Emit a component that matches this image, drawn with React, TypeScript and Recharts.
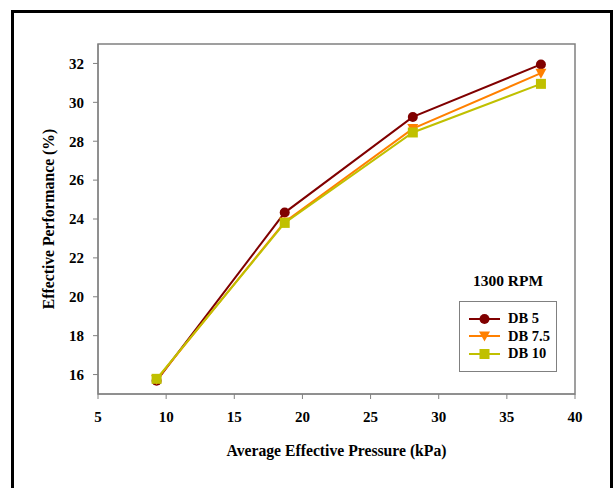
import { LineChart, Line, XAxis, YAxis, ReferenceArea } from "recharts";

// average effective pressure (kPa)
const pressure = [9.3, 18.7, 28.1, 37.5];
// effective performance (%) for each DB setting
const db5 = [15.68, 24.33, 29.25, 31.95];
const db75 = [15.74, 23.85, 28.65, 31.5];
const db10 = [15.78, 23.8, 28.45, 30.95];

const xTicks = [5, 10, 15, 20, 25, 30, 35, 40];
const yTicks = [16, 18, 20, 22, 24, 26, 28, 30, 32];

const COLORS = { db5: "#800000", db75: "#FF8000", db10: "#C0C000" };
const FONT = "'Liberation Serif', 'Times New Roman', serif";
const AXIS = "#808080";

const data = pressure.map((p, i) => ({ p, db5: db5[i], db75: db75[i], db10: db10[i] }));

const series = [
  { key: "db5", name: "DB 5", color: COLORS.db5, shape: "circle" },
  { key: "db75", name: "DB 7.5", color: COLORS.db75, shape: "triangle" },
  { key: "db10", name: "DB 10", color: COLORS.db10, shape: "square" },
];

function Marker({ cx, cy, shape, color }: any) {
  if (cx == null || cy == null) return null;
  if (shape === "circle") return <circle cx={cx} cy={cy} r={5} fill={color} />;
  if (shape === "triangle")
    return <path d={`M${cx - 5.5},${cy - 4.5} L${cx + 5.5},${cy - 4.5} L${cx},${cy + 5.5} Z`} fill={color} />;
  return <rect x={cx - 5} y={cy - 5} width={10} height={10} fill={color} />;
}

function LegendBox() {
  return (
    <div style={{ position: "absolute", left: 459, top: 266, width: 98, fontFamily: FONT, fontWeight: "bold", color: "#000" }}>
      <div style={{ textAlign: "center", fontSize: 15.5, height: 35, lineHeight: "30px" }}>1300 RPM</div>
      <div style={{ border: `1px solid ${AXIS}`, width: 96, height: 61, paddingTop: 8 }}>
        {series.map((s) => (
          <div key={s.key} style={{ display: "flex", alignItems: "center", height: 17.5, fontSize: 14.5 }}>
            <svg width={48} height={14} style={{ flex: "none" }}>
              <line x1={9} y1={7} x2={40} y2={7} stroke={s.color} strokeWidth={2} />
              <Marker cx={24.5} cy={7} shape={s.shape} color={s.color} />
            </svg>
            <span>{s.name}</span>
          </div>
        ))}
      </div>
    </div>
  );
}

export default function App() {
  const tick = { fill: "#000", fontSize: 15, fontWeight: "bold", fontFamily: FONT };
  return (
    <div style={{ position: "absolute", left: 0, top: 0, width: 614, height: 488, background: "#fff", overflow: "hidden" }}>
      <div
        style={{
          position: "absolute",
          left: 11,
          top: 10,
          width: 602,
          height: 520,
          border: "3px solid #000",
          boxSizing: "border-box",
        }}
      />
      <LineChart width={614} height={488} data={data} margin={{ top: 44, right: 39, left: 38, bottom: 54 }}>
        <ReferenceArea x1={5} x2={40} y1={15} y2={33} fill="none" stroke={AXIS} strokeWidth={1.5} ifOverflow="visible" />
        <XAxis
          dataKey="p"
          type="number"
          domain={[5, 40]}
          ticks={xTicks}
          tick={tick}
          tickSize={5}
          tickMargin={12}
          stroke={AXIS}
          height={40}
          label={{
            value: "Average Effective Pressure (kPa)",
            position: "insideBottom",
            offset: -22,
            style: { fill: "#000", fontSize: 15.7, fontWeight: "bold", fontFamily: FONT },
          }}
        />
        <YAxis
          type="number"
          domain={[15, 33]}
          ticks={yTicks}
          tick={tick}
          tickSize={5}
          tickMargin={9}
          stroke={AXIS}
          width={60}
          label={{
            value: "Effective Performance (%)",
            angle: -90,
            position: "insideLeft",
            offset: 10,
            style: { fill: "#000", fontSize: 15.7, fontWeight: "bold", fontFamily: FONT, textAnchor: "middle" },
          }}
        />
        {series.map((s) => (
          <Line
            key={s.key}
            dataKey={s.key}
            name={s.name}
            stroke={s.color}
            strokeWidth={2}
            dot={(props: any) => <Marker key={props.index} cx={props.cx} cy={props.cy} shape={s.shape} color={s.color} />}
            activeDot={false}
            isAnimationActive={false}
          />
        ))}
      </LineChart>
      <LegendBox />
    </div>
  );
}
